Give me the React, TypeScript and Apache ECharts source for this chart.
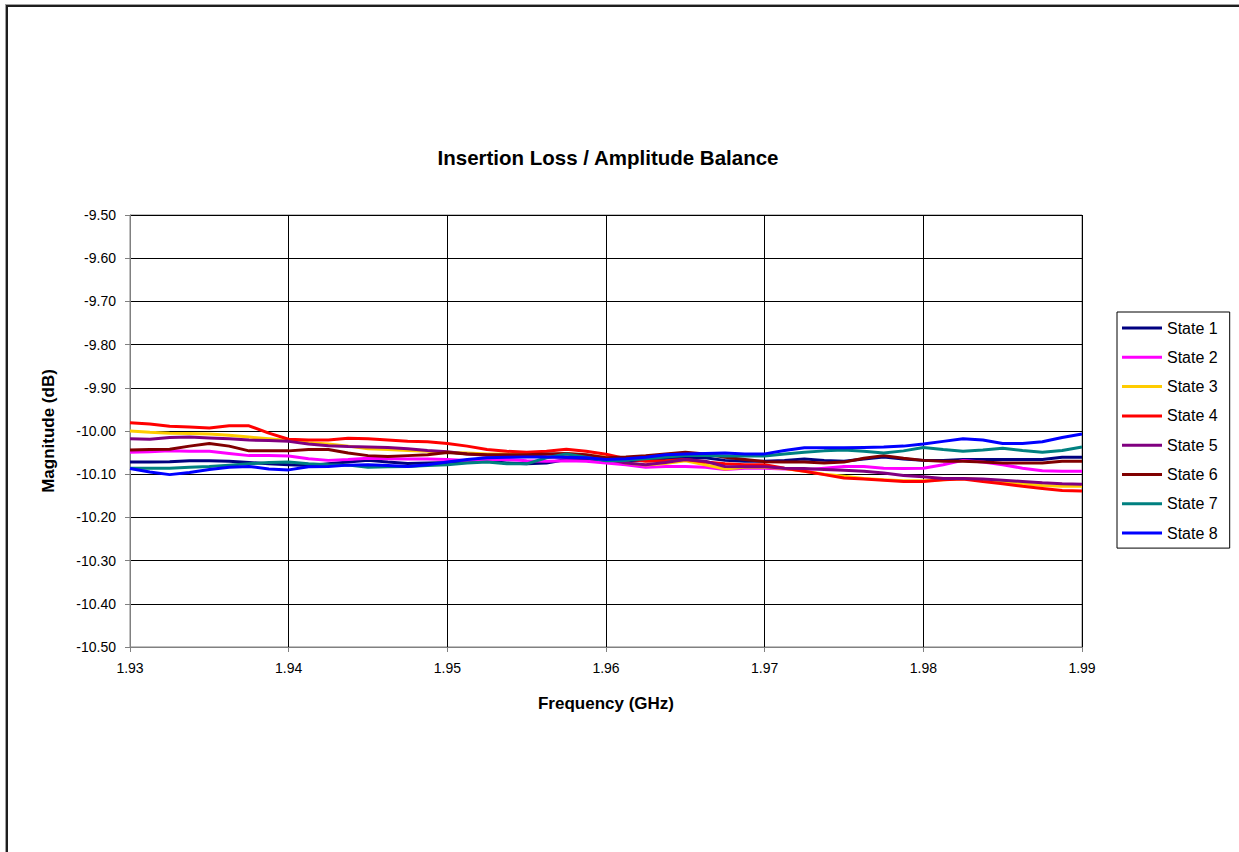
import React, { useEffect, useRef } from "react";
import * as echarts from "echarts";

const freqs = [
  1.93, 1.93125, 1.9325, 1.93375, 1.935, 1.93625, 1.9375, 1.93875, 1.94, 1.94125, 1.9425, 1.94375,
  1.945, 1.94625, 1.9475, 1.94875, 1.95, 1.95125, 1.9525, 1.95375, 1.955, 1.95625, 1.9575, 1.95875,
  1.96, 1.96125, 1.9625, 1.96375, 1.965, 1.96625, 1.9675, 1.96875, 1.97, 1.97125, 1.9725, 1.97375,
  1.975, 1.97625, 1.9775, 1.97875, 1.98, 1.98125, 1.9825, 1.98375, 1.985, 1.98625, 1.9875, 1.98875, 1.99,
];

const state1 = [
  -10.072, -10.072, -10.071, -10.069, -10.069, -10.07, -10.073, -10.076, -10.078, -10.08, -10.076, -10.072,
  -10.068, -10.072, -10.075, -10.074, -10.073, -10.07, -10.07, -10.074, -10.076, -10.074, -10.066, -10.066,
  -10.07, -10.069, -10.068, -10.065, -10.062, -10.062, -10.068, -10.07, -10.07, -10.068, -10.065, -10.068,
  -10.07, -10.065, -10.06, -10.065, -10.068, -10.068, -10.066, -10.066, -10.066, -10.066, -10.066, -10.061, -10.061,
];
const state2 = [
  -10.049, -10.048, -10.046, -10.047, -10.047, -10.052, -10.057, -10.057, -10.058, -10.064, -10.068, -10.066,
  -10.063, -10.064, -10.065, -10.065, -10.066, -10.068, -10.066, -10.066, -10.069, -10.07, -10.069, -10.07,
  -10.074, -10.078, -10.084, -10.082, -10.082, -10.084, -10.089, -10.086, -10.086, -10.088, -10.09, -10.086,
  -10.082, -10.082, -10.086, -10.087, -10.086, -10.078, -10.068, -10.072, -10.078, -10.086, -10.092, -10.093, -10.093,
];
const state3 = [
  -10.0, -10.003, -10.005, -10.006, -10.007, -10.01, -10.014, -10.018, -10.022, -10.027, -10.03, -10.035,
  -10.041, -10.043, -10.045, -10.047, -10.049, -10.051, -10.053, -10.053, -10.055, -10.055, -10.053, -10.056,
  -10.061, -10.074, -10.079, -10.075, -10.069, -10.078, -10.088, -10.084, -10.084, -10.087, -10.093, -10.1,
  -10.105, -10.11, -10.113, -10.115, -10.115, -10.113, -10.11, -10.113, -10.118, -10.122, -10.126, -10.128, -10.128,
];
const state4 = [
  -9.981, -9.984, -9.989, -9.991, -9.993, -9.988, -9.988, -10.005, -10.019, -10.021, -10.021, -10.017,
  -10.018, -10.021, -10.024, -10.025, -10.029, -10.035, -10.043, -10.047, -10.049, -10.047, -10.042, -10.047,
  -10.054, -10.064, -10.07, -10.069, -10.066, -10.072, -10.076, -10.078, -10.078, -10.086, -10.093, -10.101,
  -10.109, -10.111, -10.114, -10.117, -10.117, -10.113, -10.111, -10.117, -10.122, -10.128, -10.133, -10.138, -10.139,
];
const state5 = [
  -10.018, -10.019, -10.015, -10.014, -10.016, -10.018, -10.021, -10.022, -10.024, -10.03, -10.034, -10.036,
  -10.037, -10.038, -10.041, -10.045, -10.048, -10.053, -10.056, -10.057, -10.058, -10.06, -10.061, -10.062,
  -10.065, -10.074, -10.078, -10.073, -10.066, -10.07, -10.082, -10.083, -10.083, -10.086, -10.087, -10.089,
  -10.091, -10.093, -10.097, -10.103, -10.106, -10.11, -10.11, -10.111, -10.114, -10.117, -10.12, -10.122, -10.123,
];
const state6 = [
  -10.044, -10.043, -10.042, -10.035, -10.029, -10.035, -10.046, -10.046, -10.046, -10.043, -10.043, -10.051,
  -10.057, -10.059, -10.057, -10.055, -10.05, -10.053, -10.055, -10.055, -10.055, -10.053, -10.052, -10.055,
  -10.062, -10.06, -10.057, -10.053, -10.049, -10.053, -10.061, -10.066, -10.071, -10.072, -10.072, -10.074,
  -10.072, -10.063, -10.057, -10.063, -10.068, -10.07, -10.07, -10.072, -10.074, -10.074, -10.074, -10.07, -10.07,
];
const state7 = [
  -10.086, -10.086, -10.086, -10.084, -10.082, -10.079, -10.076, -10.073, -10.072, -10.076, -10.078, -10.079,
  -10.084, -10.083, -10.082, -10.08, -10.078, -10.074, -10.072, -10.076, -10.076, -10.062, -10.053, -10.061,
  -10.069, -10.068, -10.064, -10.06, -10.057, -10.057, -10.058, -10.058, -10.058, -10.053, -10.049, -10.046,
  -10.044, -10.047, -10.051, -10.046, -10.038, -10.043, -10.047, -10.044, -10.04, -10.045, -10.049, -10.045, -10.037,
];
const state8 = [
  -10.087, -10.095, -10.101, -10.096, -10.089, -10.084, -10.082, -10.088, -10.09, -10.083, -10.082, -10.079,
  -10.078, -10.08, -10.082, -10.078, -10.072, -10.066, -10.062, -10.061, -10.06, -10.06, -10.061, -10.062,
  -10.066, -10.064, -10.061, -10.055, -10.053, -10.052, -10.051, -10.053, -10.053, -10.045, -10.039, -10.039,
  -10.039, -10.038, -10.037, -10.035, -10.03, -10.024, -10.018, -10.021, -10.029, -10.029, -10.025, -10.015, -10.007,
];

const seriesNames = ["State 1", "State 2", "State 3", "State 4", "State 5", "State 6", "State 7", "State 8"];
const seriesValues = [state1, state2, state3, state4, state5, state6, state7, state8];
const seriesColors = ["#000080", "#FF00FF", "#FFCC00", "#FF0000", "#800080", "#800000", "#008080", "#0000FF"];

const FONT = "'Liberation Sans', Arial, sans-serif";

export default function App() {
  const ref = useRef<HTMLDivElement>(null);
  useEffect(() => {
    if (!ref.current) return;
    const chart = echarts.init(ref.current, null, { renderer: "svg" });
    chart.setOption({
      animation: false,
      backgroundColor: "#ffffff",
      textStyle: { fontFamily: FONT },
      title: {
        text: "Insertion Loss / Amplitude Balance",
        left: 603,
        top: 142,
        textAlign: "center",
        textStyle: { fontFamily: FONT, fontSize: 20.5, fontWeight: "bold", color: "#000" },
      },
      graphic: [
        {
          type: "line",
          shape: { x1: 5, y1: 4.5, x2: 1300, y2: 4.5 },
          style: { stroke: "#a0a0a0", lineWidth: 1 },
          silent: true,
        },
        {
          type: "line",
          shape: { x1: 5.5, y1: 4, x2: 5.5, y2: 900 },
          style: { stroke: "#a0a0a0", lineWidth: 1 },
          silent: true,
        },
        {
          type: "line",
          shape: { x1: 6, y1: 6, x2: 1300, y2: 6 },
          style: { stroke: "#1e1e1e", lineWidth: 2 },
          silent: true,
        },
        {
          type: "line",
          shape: { x1: 7, y1: 5, x2: 7, y2: 900 },
          style: { stroke: "#1e1e1e", lineWidth: 2 },
          silent: true,
        },
      ],
      legend: {
        orient: "vertical",
        left: 1117,
        top: 312,
        itemWidth: 40,
        itemHeight: 3,
        itemGap: 11.3,
        icon: "rect",
        padding: [7, 12, 6, 5],
        borderColor: "#000",
        borderWidth: 1,
        backgroundColor: "#fff",
        textStyle: { fontFamily: FONT, fontSize: 16, color: "#000", lineHeight: 18 },
        data: seriesNames,
      },
      grid: {
        left: 130,
        top: 215,
        width: 952,
        height: 432,
        show: true,
        borderColor: "#808080",
        borderWidth: 1,
        containLabel: false,
      },
      xAxis: {
        type: "value",
        min: 1.93,
        max: 1.99,
        interval: 0.01,
        name: "Frequency (GHz)",
        nameLocation: "middle",
        nameGap: 48,
        nameTextStyle: { fontFamily: FONT, fontSize: 17, fontWeight: "bold", color: "#000" },
        axisLine: { show: true, onZero: false, lineStyle: { color: "#808080", width: 1 } },
        axisTick: { show: true, length: 5, lineStyle: { color: "#808080" } },
        axisLabel: {
          fontFamily: FONT,
          fontSize: 14,
          color: "#000",
          margin: 14,
          formatter: (v: number) => v.toFixed(2),
        },
        splitLine: { show: true, lineStyle: { color: "#000", width: 1 } },
      },
      yAxis: {
        type: "value",
        min: -10.5,
        max: -9.5,
        interval: 0.1,
        name: "Magnitude (dB)",
        nameLocation: "middle",
        nameGap: 73,
        nameRotate: 90,
        nameTextStyle: { fontFamily: FONT, fontSize: 17, fontWeight: "bold", color: "#000" },
        axisLine: { show: true, onZero: false, lineStyle: { color: "#808080", width: 1 } },
        axisTick: { show: true, length: 5, lineStyle: { color: "#808080" } },
        axisLabel: {
          fontFamily: FONT,
          fontSize: 14,
          color: "#000",
          margin: 14,
          formatter: (v: number) => v.toFixed(2),
        },
        splitLine: { show: true, lineStyle: { color: "#000", width: 1 } },
      },
      series: seriesNames.map((name, si) => ({
        name,
        type: "line",
        showSymbol: false,
        symbol: "none",
        color: seriesColors[si],
        lineStyle: { color: seriesColors[si], width: 3 },
        data: freqs.map((f, i) => [f, seriesValues[si][i]]),
        z: 3 + si,
      })),
    });
    return () => chart.dispose();
  }, []);
  return (
    <div
      ref={ref}
      style={{ position: "absolute", left: 0, top: 0, width: 1239, height: 852 }}
    />
  );
}
